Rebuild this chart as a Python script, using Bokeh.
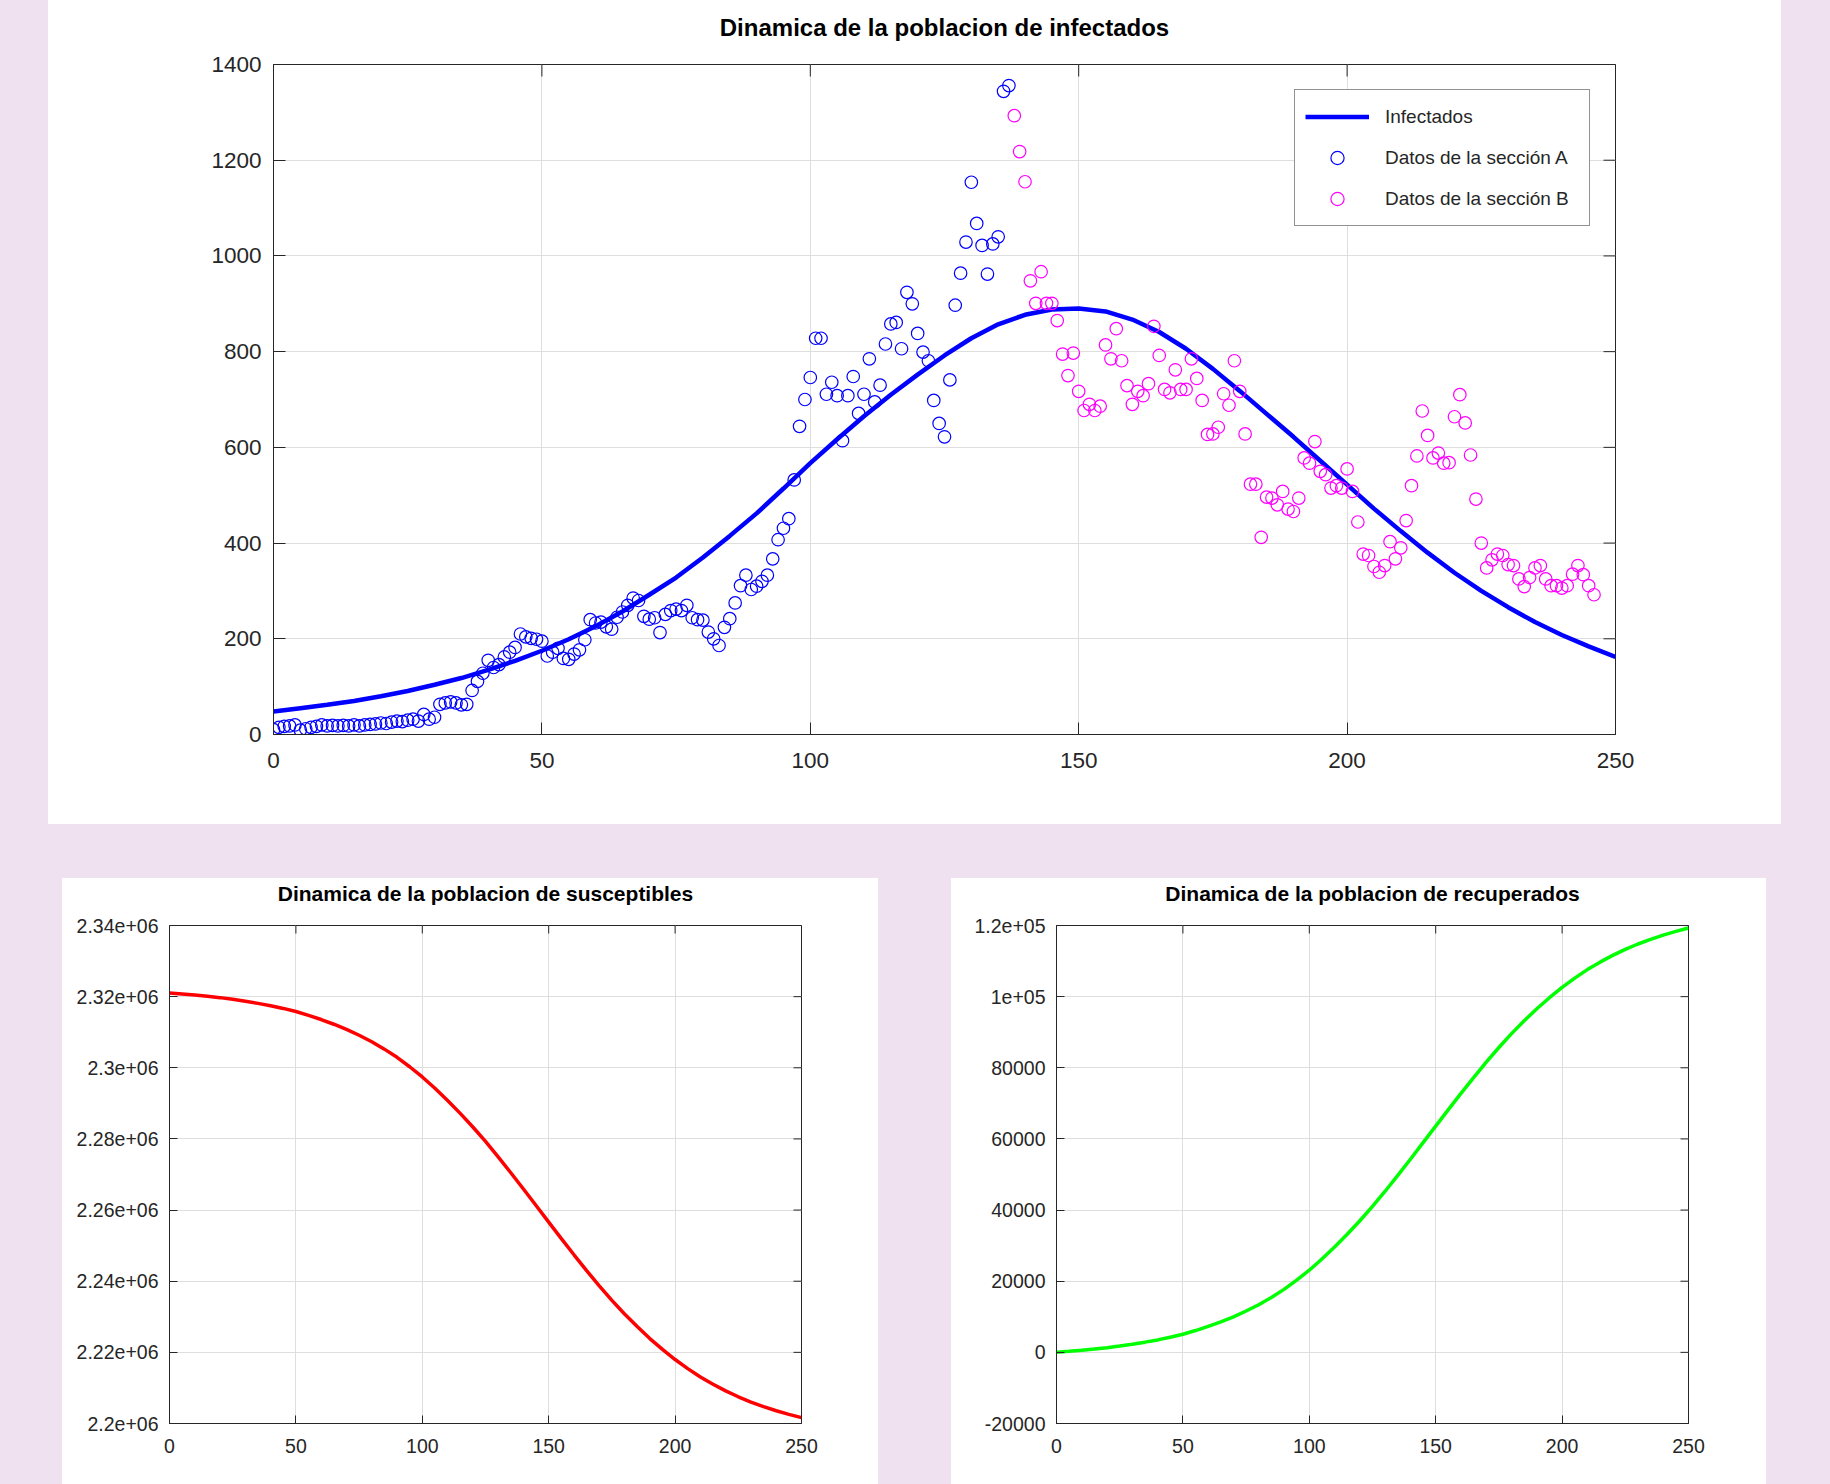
import math
from bokeh.plotting import figure
from bokeh.models import Range1d, FixedTicker, Legend, LegendItem, Spacer
from bokeh.core.properties import value
from bokeh.layouts import column, row
from bokeh.embed import file_html
from bokeh.resources import INLINE

# ---------------- data ----------------
days_a = list(range(0, 138))
cases_a = [10, 15, 17, 18, 20, 9, 12, 15, 17, 20,
           18, 19, 18, 19, 18, 20, 18, 20, 21, 22,
           24, 23, 26, 28, 27, 30, 32, 28, 42, 32,
           36, 63, 66, 68, 66, 62, 63, 92, 111, 128,
           155, 140, 146, 162, 172, 182, 210, 204, 201, 199,
           195, 164, 172, 180, 159, 157, 168, 177, 198, 240,
           233, 235, 225, 220, 245, 256, 270, 285, 280, 247,
           241, 244, 213, 251, 259, 262, 259, 270, 244, 240,
           239, 214, 200, 186, 224, 242, 275, 311, 333, 303,
           310, 320, 333, 367, 407, 431, 451, 532, 644, 700,
           746, 828, 828, 711, 736, 708, 614, 708, 748, 671,
           711, 785, 695, 730, 816, 858, 861, 806, 924, 900,
           838, 799, 781, 698, 650, 622, 741, 897, 964, 1029,
           1154, 1068, 1022, 962, 1025, 1040, 1344, 1356]

days_b = list(range(138, 247))
cases_b = [1293, 1218, 1155, 948, 901, 967, 901, 901, 865, 795,
           750, 797, 717, 677, 690, 677, 686, 814, 785, 848,
           781, 729, 690, 717, 708, 733, 853, 792, 721, 714,
           762, 721, 721, 785, 744, 698, 627, 628, 642, 712,
           688, 781, 717, 628, 523, 523, 412, 496, 494, 480,
           508, 471, 466, 494, 578, 567, 612, 550, 543, 515,
           520, 515, 555, 508, 444, 377, 374, 351, 339, 353,
           403, 367, 390, 447, 520, 582, 676, 625, 578, 588,
           567, 568, 664, 710, 651, 584, 492, 400, 348, 365,
           377, 374, 355, 353, 325, 309, 328, 348, 353, 325,
           311, 311, 306, 311, 335, 353, 334, 311, 292]

curve_days = list(range(0, 251, 5))
infected = [48, 55, 62, 70, 80, 91, 104, 118, 135, 154,
            175, 199, 226, 257, 292, 328, 370, 415, 462, 514,
            567, 617, 665, 710, 752, 792, 828, 857, 877, 888,
            890, 884, 867, 841, 806, 764, 718, 670, 622, 572,
            522, 472, 425, 380, 338, 300, 266, 235, 208, 184, 162]

susceptible = [2321050, 2320760, 2320440, 2320100, 2319720, 2319240,
               2318700, 2318110, 2317460, 2316690, 2315830, 2314750,
               2313570, 2312240, 2310800, 2309150, 2307330, 2305240,
               2302940, 2300290, 2297430, 2294230, 2290830, 2287190,
               2283350, 2279290, 2274970, 2270490, 2265920, 2261270,
               2256610, 2251980, 2247430, 2242990, 2238690, 2234630,
               2230780, 2227260, 2223880, 2220830, 2217980, 2215430,
               2213070, 2211040, 2209160, 2207510, 2206030, 2204730,
               2203590, 2202560, 2201640]
recovered = [0, 280, 600, 930, 1300, 1770, 2300, 2870, 3500, 4250,
             5100, 6130, 7300, 8580, 10000, 11620, 13400, 15450, 17700, 20300,
             23100, 26250, 29600, 33200, 37000, 41050, 45300, 49750, 54300, 58950,
             63600, 68250, 72800, 77250, 81600, 85700, 89600, 93200, 96600, 99700,
             102600, 105200, 107600, 109700, 111600, 113300, 114800, 116100,
             117300, 118350, 119300]

x_ticks = [0, 50, 100, 150, 200, 250]
inf_ticks = [0, 200, 400, 600, 800, 1000, 1200, 1400]
sus_ticks = [2200000, 2220000, 2240000, 2260000, 2280000, 2300000, 2320000, 2340000]
sus_labels = ["2.2e+06", "2.22e+06", "2.24e+06", "2.26e+06", "2.28e+06",
              "2.3e+06", "2.32e+06", "2.34e+06"]
rec_ticks = [-20000, 0, 20000, 40000, 60000, 80000, 100000, 120000]
rec_labels = ["-20000", "0", "20000", "40000", "60000", "80000", "1e+05", "1.2e+05"]

title_top = "Dinamica de la poblacion de infectados"
title_sus = "Dinamica de la poblacion de susceptibles"
title_rec = "Dinamica de la poblacion de recuperados"
legend_labels = ["Infectados", "Datos de la sección A", "Datos de la sección B"]

# ---------------- style ----------------
FONT = "Liberation Sans"
BG = "#efe1ef"
AXC = "#262626"
GRID = "#dedede"


def style_axis(ax, ticks, font_size, tick_len, standoff, labels=None):
    ax.ticker = FixedTicker(ticks=ticks)
    ax.major_tick_in = tick_len
    ax.major_tick_out = 0
    ax.minor_tick_line_color = None
    ax.axis_line_color = AXC
    ax.axis_line_width = 1
    ax.major_tick_line_color = AXC
    ax.major_tick_line_width = 1
    ax.major_label_text_font = FONT
    ax.major_label_text_color = AXC
    ax.major_label_text_font_size = font_size
    ax.major_label_standoff = standoff
    if labels is not None:
        ax.major_label_overrides = {t: l for t, l in zip(ticks, labels)}


def title_strip(w, h, left, right, text, size, center_from_top):
    """A transparent strip carrying the bold title, centred over the plot frame below."""
    t = figure(width=w, height=h, x_range=Range1d(0, 1), y_range=Range1d(0, h),
               x_axis_type=None, y_axis_type=None,
               output_backend="svg", toolbar_location=None,
               min_border_left=left, min_border_right=right,
               min_border_top=0, min_border_bottom=0,
               background_fill_color=None, border_fill_color=None,
               outline_line_color=None)
    t.grid.visible = False
    t.text(x=[0.5], y=[h - center_from_top], text=[text],
           text_align=value("center"), text_baseline=value("middle"),
           text_font=value(FONT), text_font_size=value(size),
           text_font_style=value("bold"), text_color="black")
    return t


def make_fig(w, h, xr, yr, left, right, top, bottom,
             xticks, yticks, fsize, tick_len, xstand, ystand, ylabels=None):
    p = figure(width=w, height=h, x_range=Range1d(*xr), y_range=Range1d(*yr),
               output_backend="svg", toolbar_location=None,
               min_border_left=left, min_border_right=right,
               min_border_top=top, min_border_bottom=bottom,
               background_fill_color="white", border_fill_color="white",
               outline_line_color=AXC, outline_line_width=1)
    style_axis(p.xaxis[0], xticks, fsize, tick_len, xstand)
    style_axis(p.yaxis[0], yticks, fsize, tick_len, ystand, labels=ylabels)
    p.xgrid.ticker = FixedTicker(ticks=xticks)
    p.ygrid.ticker = FixedTicker(ticks=yticks)
    for g in (p.xgrid[0], p.ygrid[0]):
        g.grid_line_color = GRID
        g.grid_line_width = 1
    # inward ticks on the right and top edges (outer half of each dash is clipped)
    p.scatter([xr[1]] * len(yticks), yticks, marker="dash", size=2 * tick_len,
              line_color=AXC, line_width=1)
    p.scatter(xticks, [yr[1]] * len(xticks), marker="dash", size=2 * tick_len,
              angle=math.pi / 2, line_color=AXC, line_width=1)
    return p


# ---------------- top panel ----------------
TOP_T = 46
t_top = title_strip(1733, TOP_T, 225, 166, title_top, "24px", 27)
p_top = make_fig(1733, 824 - TOP_T, (0, 250), (0, 1400), 225, 166, 64 - TOP_T, 90,
                 x_ticks, inf_ticks, "22.5px", 12, 18, 12)
r_line = p_top.line(curve_days, infected, line_color="#0000ff", line_width=4.5)
r_a = p_top.scatter(days_a, cases_a, marker="circle", size=12.5,
                    fill_color=None, line_color="#0000ff", line_width=1.2)
r_b = p_top.scatter(days_b, cases_b, marker="circle", size=12.5,
                    fill_color=None, line_color="#ff00ff", line_width=1.2)
legend = Legend(items=[LegendItem(label=legend_labels[0], renderers=[r_line]),
                       LegendItem(label=legend_labels[1], renderers=[r_a]),
                       LegendItem(label=legend_labels[2], renderers=[r_b])],
                location="top_right", margin=25, padding=10, spacing=8,
                glyph_width=64, glyph_height=33, label_height=33, label_width=194,
                label_standoff=16, label_text_font=FONT, label_text_font_size="19px",
                label_text_color=AXC, border_line_color=AXC, border_line_width=1,
                background_fill_color="white", background_fill_alpha=1.0)
p_top.add_layout(legend)

# ---------------- bottom panels ----------------
BOT_T = 32
t_sus = title_strip(816, BOT_T, 107, 77, title_sus, "21px", 15)
p_sus = make_fig(816, 606 - BOT_T, (0, 250), (2200000, 2340000), 107, 77, 47 - BOT_T, 61,
                 x_ticks, sus_ticks, "19.5px", 8, 15, 11, ylabels=sus_labels)
p_sus.line(curve_days, susceptible, line_color="#ff0000", line_width=3.5)

t_rec = title_strip(815, BOT_T, 105, 78, title_rec, "21px", 15)
p_rec = make_fig(815, 606 - BOT_T, (0, 250), (-20000, 120000), 105, 78, 47 - BOT_T, 61,
                 x_ticks, rec_ticks, "19.5px", 8, 15, 11, ylabels=rec_labels)
p_rec.line(curve_days, recovered, line_color="#00ff00", line_width=3.5)

WHITE = {"background-color": "white"}
top_row = row(Spacer(width=48, height=824), column(t_top, p_top, styles=WHITE),
              Spacer(width=49, height=824))
bottom_row = row(Spacer(width=62, height=606), column(t_sus, p_sus, styles=WHITE),
                 Spacer(width=73, height=606), column(t_rec, p_rec, styles=WHITE),
                 Spacer(width=64, height=606))
layout = column(top_row, Spacer(width=1830, height=54), bottom_row,
                styles={"background-color": BG})

open("out.html", "w").write(file_html(layout, INLINE))
